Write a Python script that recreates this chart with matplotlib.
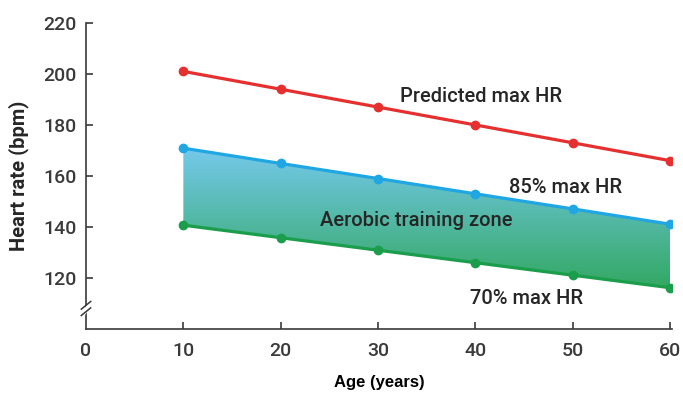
import numpy as np
import matplotlib
matplotlib.use("Agg")
import matplotlib.pyplot as plt
from matplotlib.colors import LinearSegmentedColormap
from matplotlib.patches import Polygon

plt.rcParams['font.family'] = ['Roboto', 'DejaVu Sans']

ages = [10, 20, 30, 40, 50, 60]
max_hr = [201, 194, 187, 180, 173, 166]
hr_85 = [170.9, 164.9, 159.0, 153.0, 147.1, 141.1]
hr_70 = [140.7, 135.8, 130.9, 126.0, 121.1, 116.2]
yticks = [120, 140, 160, 180, 200, 220]
xticks = [0, 10, 20, 30, 40, 50, 60]

red = "#e5302f"
blue = "#1fa6e3"
green = "#1a9e4c"
text_col = "#262626"
tick_col = "#3a3a3a"
axis_col = "#3a3a3a"

fig = plt.figure(figsize=(6.83, 3.95), dpi=100)
ax = fig.add_axes([0.1259, 0.167, 0.858, 0.775])
ax.set_xlim(0, 60.2)
ax.set_ylim(100, 220)

# gradient-filled training zone between the 70% and 85% curves
cmap = LinearSegmentedColormap.from_list("zone", ["#33a862", "#74c9ec"])
poly_xy = list(zip(ages, hr_85)) + list(zip(ages[::-1], hr_70[::-1]))
zone = Polygon(poly_xy, closed=True, facecolor="none", edgecolor="none")
ax.add_patch(zone)
grad = np.linspace(0, 1, 256).reshape(-1, 1)
img = ax.imshow(grad, cmap=cmap, origin="lower", aspect="auto",
                extent=[min(ages), max(ages), min(hr_70), max(hr_85)], zorder=1)
img.set_clip_path(zone)

for vals, col in [(max_hr, red), (hr_85, blue), (hr_70, green)]:
    ax.plot(ages, vals, color=col, lw=2.3, marker="o", ms=6, zorder=3,
            solid_capstyle="round")

label_kw = dict(fontsize=14.5, color=text_col, va="center", fontweight="medium")
ax.text(32.3, 191, "Predicted max HR", **label_kw)
ax.text(43.5, 155.3, "85% max HR", **label_kw)
ax.text(24.0, 142.4, "Aerobic training zone", **label_kw)
ax.text(39.4, 112, "70% max HR", **label_kw)

for s in ["top", "right"]:
    ax.spines[s].set_visible(False)
for s in ["left", "bottom"]:
    ax.spines[s].set_color(axis_col)
    ax.spines[s].set_linewidth(1.2)

ax.set_yticks(yticks)
ax.set_xticks(xticks)
ax.tick_params(axis="both", direction="in", length=5, width=1.2, color=axis_col,
               labelsize=14, labelcolor=tick_col, pad=7)
ax.tick_params(axis="x", pad=9)
for lab in ax.get_xticklabels() + ax.get_yticklabels():
    lab.set_fontweight("medium")
ax.xaxis.get_major_ticks()[0].tick1line.set_visible(False)

ax.set_xlabel("Age (years)", fontsize=12, fontweight="bold", color="black",
              family="Liberation Sans", labelpad=11)
ax.set_ylabel("Heart rate (bpm)", fontsize=14.5, fontweight="bold", color=text_col, labelpad=10)

# axis break marks on the y spine
tr = ax.get_yaxis_transform()
ax.plot([-0.006, 0.006], [105.5, 109.5], transform=tr, color="white", lw=3, clip_on=False, zorder=5)
for y0 in (105.3, 107.8):
    ax.plot([-0.008, 0.008], [y0, y0 + 3.0], transform=tr, color=axis_col, lw=1.1,
            clip_on=False, zorder=6)

fig.savefig("out.png", dpi=100)
